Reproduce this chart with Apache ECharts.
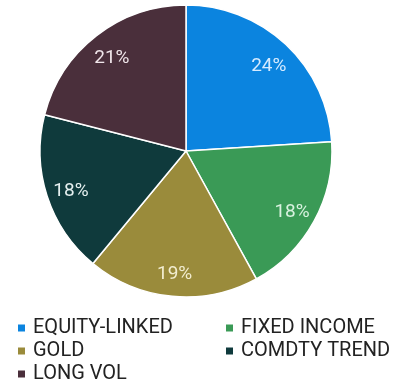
<!DOCTYPE html>
<html>
<head>
<meta charset="utf-8">
<script src="https://cdn.jsdelivr.net/npm/echarts@6/dist/echarts.min.js"></script>
<style>
  html, body { margin: 0; padding: 0; background: #fff; }
  #main { width: 404px; height: 381px; }
</style>
</head>
<body>
<div id="main"></div>
<script>
const names = ['EQUITY-LINKED', 'FIXED INCOME', 'GOLD', 'COMDTY TREND', 'LONG VOL'];
const values = [24, 18, 19, 18, 21];
const colors = ['#0B84DF', '#3A9A56', '#9A8B3B', '#0F3A3C', '#4A2F3B'];
const labelColors = ['#D6EBFF', '#D8F2DF', '#F2EDD0', '#E6F0F0', '#F0E6EA'];

const chart = echarts.init(document.getElementById('main'));

const pieData = names.map((n, i) => ({ name: n, value: values[i], itemStyle: { color: colors[i] } }));
const labelData = names.map((n, i) => ({
  name: n, value: values[i],
  label: { color: labelColors[i] }
}));

const legendBase = {
  orient: 'vertical',
  icon: 'rect',
  itemWidth: 9,
  itemHeight: 9,
  itemGap: 3,
  height: 80,
  padding: 0,
  textStyle: { fontFamily: 'Roboto', fontSize: 20, color: '#222', padding: [0, 0, 0, 2] },
  selectedMode: false
};

chart.setOption({
  backgroundColor: '#fff',
  animation: false,
  legend: [
    Object.assign({}, legendBase, { left: 16, top: 318, data: ['EQUITY-LINKED', 'GOLD', 'LONG VOL'] }),
    Object.assign({}, legendBase, { left: 224, top: 318, data: ['FIXED INCOME', 'COMDTY TREND'] })
  ],
  series: [
    {
      type: 'pie',
      center: [186, 151],
      radius: [0, 146],
      startAngle: 90,
      clockwise: true,
      itemStyle: { borderColor: '#fff', borderWidth: 1.5 },
      label: { show: false },
      labelLine: { show: false },
      data: pieData
    },
    {
      type: 'pie',
      silent: true,
      center: [186, 151],
      radius: [90, 146],
      startAngle: 90,
      clockwise: true,
      itemStyle: { color: 'rgba(0,0,0,0)' },
      label: {
        show: true,
        position: 'inside',
        fontFamily: 'Roboto',
        fontSize: 19,
        offset: [0, 3],
        formatter: p => p.value + '%'
      },
      labelLine: { show: false },
      data: labelData
    }
  ]
});
</script>
</body>
</html>
